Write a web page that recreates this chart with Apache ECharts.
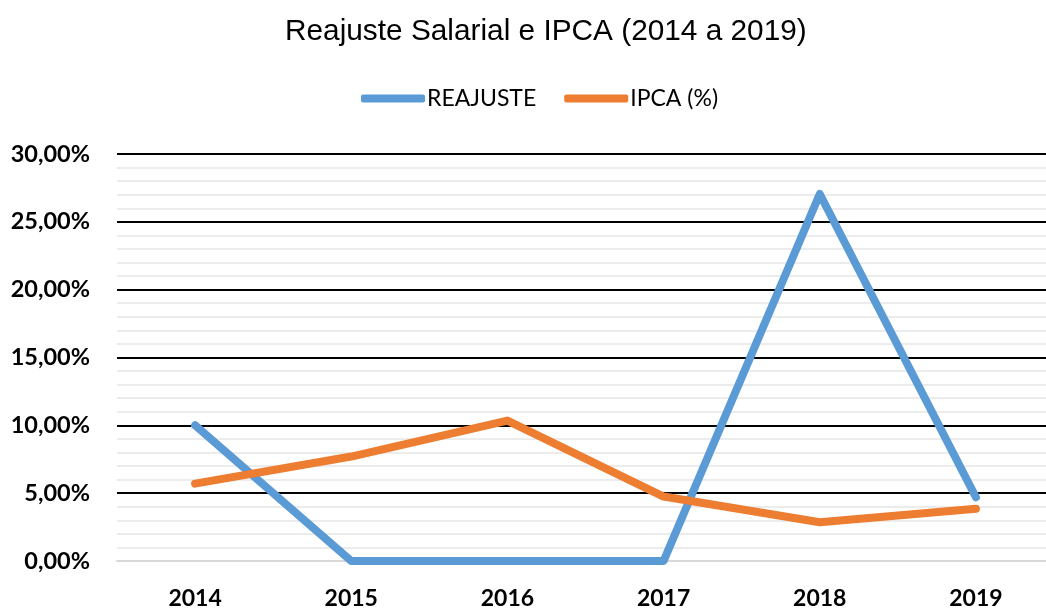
<!DOCTYPE html>
<html>
<head>
<meta charset="utf-8">
<script src="https://cdn.jsdelivr.net/npm/echarts@6/dist/echarts.min.js"></script>
<style>
  html, body { margin: 0; padding: 0; background: #fff; }
  #chart { width: 1046px; height: 608px; }
</style>
</head>
<body>
<div id="chart"></div>
<script>
var anos = ['2014', '2015', '2016', '2017', '2018', '2019'];
var reajuste = [10, 0, 0, 0, 27.05, 4.7];
var ipca = [5.7, 7.7, 10.35, 4.75, 2.86, 3.85];
var nomes = ['REAJUSTE', 'IPCA (%)'];
var cores = ['#5B9BD5', '#ED7D31'];

var grafico = echarts.init(document.getElementById('chart'));

var option = {
    animation: false,
    title: {text: 'Reajuste Salarial e IPCA (2014 a 2019)', left: 280, top: 12,
        textStyle: {fontFamily: 'Liberation Sans', fontSize: 29.8, fontWeight: 'normal', color: '#000'}},
    legend: {data: nomes, left: 356, top: 82, icon: 'roundRect', itemWidth: 64, itemHeight: 8, itemGap: 28,
        textStyle: {fontFamily: 'Lato', fontSize: 23, color: '#000', padding: [0, 0, 0, -3]}},
    grid: {left: 117, top: 154, width: 937, bottom: 47, outerBoundsMode: 'none', containLabel: false},
    xAxis: {type: 'category', data: anos, boundaryGap: true,
        axisTick: {show: false},
        axisLine: {lineStyle: {color: '#d9d9d9', width: 2}},
        axisLabel: {margin: 26, fontFamily: 'Lato', fontWeight: 'bold', fontSize: 23, color: '#000'},
        splitLine: {show: false}},
    yAxis: {type: 'value', min: 0, max: 30, interval: 5,
        axisLine: {show: false}, axisTick: {show: false},
        axisLabel: {margin: 27, fontFamily: 'Lato', fontWeight: 'bold', fontSize: 23.5, color: '#000',
            formatter: function (v) { return v.toFixed(2).replace('.', ',') + '%'; }},
        splitLine: {show: true, lineStyle: {color: ['#d9d9d9', '#000', '#000', '#000', '#000', '#000', '#000'], width: 2}},
        minorTick: {show: false, splitNumber: 5},
        minorSplitLine: {show: true, lineStyle: {color: '#ececec', width: 2}}},
    series: [
        {name: nomes[0], type: 'line', data: reajuste, showSymbol: false, symbol: 'none', color: cores[0],
            lineStyle: {width: 8, cap: 'round', join: 'round'}},
        {name: nomes[1], type: 'line', data: ipca, showSymbol: false, symbol: 'none', color: cores[1],
            lineStyle: {width: 8, cap: 'round', join: 'round'}}
    ]
};
grafico.setOption(option);
</script>
</body>
</html>
